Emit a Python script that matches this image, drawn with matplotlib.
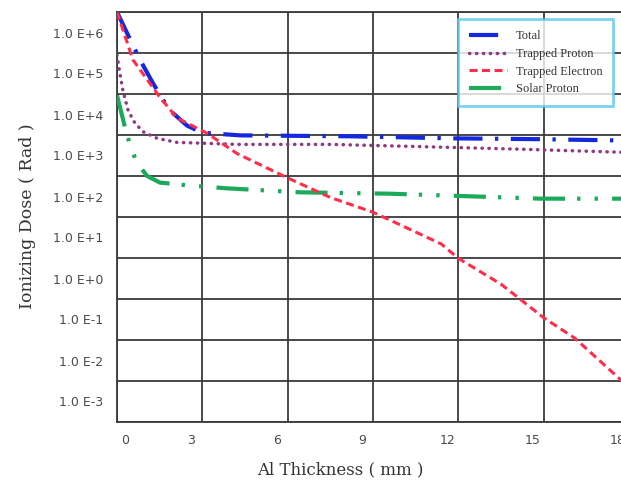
import numpy as np
import matplotlib.pyplot as plt
import matplotlib.transforms as mtransforms
from matplotlib.ticker import FixedLocator, NullFormatter

# Al thickness (mm) and ionizing dose (Rad)
x_total = [0, 0.53, 0.81, 1.27, 1.62, 1.97, 2.46, 2.92, 3.27, 4.33, 8.2, 11.7, 14.9, 18.0]
total = [1.0e6, 1.7e5, 6.8e4, 1.8e4, 7.1e3, 3.4e3, 1.7e3, 1.2e3, 1.1e3, 980, 930, 830, 790, 730]

x_tp = [0, 0.10, 0.21, 0.39, 0.63, 0.92, 1.41, 2.11, 3.03, 4.23, 7.5, 10.7, 14.2, 18.0]
trapped_proton = [8.9e4, 3.2e4, 1.2e4, 4.0e3, 1.95e3, 1.2e3, 830, 660, 630, 590, 590, 520, 450, 375]

x_te = [0, 0.56, 1.51, 2.11, 3.17, 4.23, 5.95, 7.5, 9.01, 11.4, 12.0, 13.5, 15.0, 16.1, 18.0]
trapped_electron = [1.0e6, 6.8e4, 8.3e3, 2.6e3, 1.1e3, 350, 93, 30, 13, 2.2, 0.98, 0.23,
                    0.035, 0.011, 7e-4]

x_sp = [0, 0.28, 0.46, 0.70, 1.06, 1.51, 2.50, 3.87, 6.44, 9.6, 12.4, 14.9, 18.0]
solar_proton = [9.3e3, 1.55e3, 560, 210, 100, 69, 59, 50, 40, 37, 32, 28, 28]

x_ticks = [0, 3, 6, 9, 12, 15, 18]
decades = [6, 5, 4, 3, 2, 1, 0, -1, -2, -3]
y_labels = ["1.0 E+6", "1.0 E+5", "1.0 E+4", "1.0 E+3", "1.0 E+2",
            "1.0 E+1", "1.0 E+0", "1.0 E-1", "1.0 E-2", "1.0 E-3"]

serif = ["Liberation Serif", "DejaVu Serif"]

fig = plt.figure(figsize=(6.21, 4.84), dpi=100)
ax = fig.add_axes([117 / 621, 62 / 484, 512 / 621, 410 / 484])

ax.plot(x_total, total, color="#1428e0", lw=3, ls=(0, (7, 3, 0.8, 3)), label="Total", zorder=4)
ax.plot(x_tp, trapped_proton, color="#8e3a88", lw=2.5, ls=(0, (0.1, 1.9)),
        dash_capstyle="round", label="Trapped Proton", zorder=3)
ax.plot(x_te, trapped_electron, color="#ff2d4a", lw=2.2, ls=(0, (2.6, 1.5)),
        label="Trapped Electron", zorder=5)
ax.plot(x_sp, solar_proton, color="#1ca95a", lw=3, ls=(0, (7.7, 2.9, 0.8, 3.4, 0.8, 3.4)),
        label="Solar Proton", zorder=3)

ax.set_yscale("log")
ax.set_ylim(1e-4, 1e6)
ax.set_xlim(0, 18)

# labels sit in the middle of each decade band, gridlines on the decades
ax.yaxis.set_major_locator(FixedLocator([10.0 ** (d - 0.5) for d in decades]))
ax.set_yticklabels(y_labels)
ax.yaxis.set_minor_locator(FixedLocator([10.0 ** d for d in range(-4, 7)]))
ax.yaxis.set_minor_formatter(NullFormatter())
ax.set_xticks(x_ticks)
ax.set_xticklabels([str(t) for t in x_ticks])

ax.tick_params(axis="both", which="both", length=0, labelsize=9, labelcolor="#4a4a4a")
ax.tick_params(axis="y", pad=10)
ax.tick_params(axis="x", pad=9)

# x tick labels in the reference sit a little left of their gridlines
for i, lab in enumerate(ax.get_xticklabels()):
    dx = 0.08 if i == 0 else -0.11
    lab.set_transform(lab.get_transform() + mtransforms.ScaledTranslation(dx, 0, fig.dpi_scale_trans))

ax.grid(which="minor", axis="y", color="#3a3a3a", lw=1.3)
ax.grid(which="major", axis="x", color="#3a3a3a", lw=1.3)
ax.grid(which="major", axis="y", visible=False)
for s in ax.spines.values():
    s.set_color("#3a3a3a")
    s.set_linewidth(1.3)

ax.set_xlabel("Al Thickness ( mm )", family="DejaVu Serif", fontsize=12, color="#333333")
ax.set_ylabel("Ionizing Dose ( Rad )", family="DejaVu Serif", fontsize=12.5, color="#333333")
ax.xaxis.set_label_coords(0.436, -0.095)
ax.yaxis.set_label_coords(-0.158, 0.502)

leg = ax.legend(loc="upper left", bbox_to_anchor=(458 / 621, 1 - 19 / 484),
                bbox_transform=fig.transFigure, prop={"family": serif, "size": 9},
                frameon=True, fancybox=False, handlelength=3.0, handletextpad=0.7,
                labelspacing=0.45, borderpad=0.9, borderaxespad=0)
leg.get_frame().set_edgecolor("#5ac8ec")
leg.get_frame().set_linewidth(2)
for t in leg.get_texts():
    t.set_color("#333333")

fig.savefig("out.png", dpi=100)
